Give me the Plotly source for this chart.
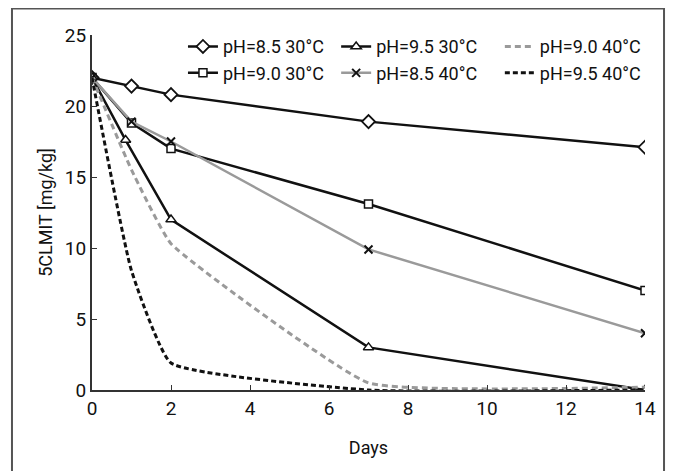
import plotly.graph_objects as go

# Data
days_std = [0, 1, 2, 7, 14]
days_tri = [0, 0.85, 2, 7, 14]

ph85_30 = [22.0, 21.4, 20.8, 18.9, 17.1]
ph90_30 = [22.0, 18.8, 17.0, 13.1, 7.0]
ph95_30 = [22.0, 17.6, 12.0, 3.0, 0.0]
ph85_40 = [22.0, 18.9, 17.5, 9.9, 4.0]
ph90_40 = [22.0, 15.5, 10.3, 0.5, 0.2]
ph95_40 = [22.0, 8.4, 1.9, 0.0, 0.0]

x_ticks = [0, 2, 4, 6, 8, 10, 12, 14]
y_ticks = [0, 5, 10, 15, 20, 25]

FONT = "Roboto, Liberation Sans, sans-serif"
BLACK = "#111111"
GRAY = "#9a9a9a"

fig = go.Figure()

fig.add_trace(go.Scatter(
    x=days_std, y=ph85_30, name="pH=8.5 30°C", mode="lines+markers",
    line=dict(color=BLACK, width=2.5),
    marker=dict(symbol="diamond", size=10, color="white", line=dict(color=BLACK, width=1.8)),
    legend="legend"))
fig.add_trace(go.Scatter(
    x=days_std, y=ph90_30, name="pH=9.0 30°C", mode="lines+markers",
    line=dict(color=BLACK, width=2.5),
    marker=dict(symbol="square", size=8, color="white", line=dict(color=BLACK, width=1.5)),
    legend="legend"))
fig.add_trace(go.Scatter(
    x=days_tri, y=ph95_30, name="pH=9.5 30°C", mode="lines+markers",
    line=dict(color=BLACK, width=2.5),
    marker=dict(symbol="triangle-up", size=9, color="white", line=dict(color=BLACK, width=1.5)),
    legend="legend2"))
fig.add_trace(go.Scatter(
    x=days_std, y=ph85_40, name="pH=8.5 40°C", mode="lines+markers",
    line=dict(color=GRAY, width=2.5),
    marker=dict(symbol="x-thin", size=8, color=BLACK, line=dict(color=BLACK, width=2)),
    legend="legend2"))
fig.add_trace(go.Scatter(
    x=days_std, y=ph90_40, name="pH=9.0 40°C", mode="lines",
    line=dict(color=GRAY, width=3, dash="6px,4px", shape="spline", smoothing=0.35),
    legend="legend3"))
fig.add_trace(go.Scatter(
    x=days_std, y=ph95_40, name="pH=9.5 40°C", mode="lines",
    line=dict(color=BLACK, width=3, dash="5px,3px", shape="spline", smoothing=0.4),
    legend="legend3"))

legend_common = dict(
    bgcolor="rgba(0,0,0,0)", font=dict(family=FONT, size=18, color=BLACK),
    yanchor="top", xanchor="left", tracegroupgap=0, itemwidth=30,
)

fig.update_layout(
    width=675, height=471,
    margin=dict(l=84, r=38, t=27, b=89),
    paper_bgcolor="white", plot_bgcolor="white",
    font=dict(family=FONT, size=18, color=BLACK),
    legend=dict(x=0.1645, y=1.019, **legend_common),
    legend2=dict(x=0.4415, y=1.019, **legend_common),
    legend3=dict(x=0.7375, y=1.019, **legend_common),
    xaxis=dict(
        range=[0, 14], tickvals=x_ticks, ticks="inside", ticklen=5, tickwidth=1,
        tickcolor="#333", showline=True, linecolor="#333", linewidth=2,
        showgrid=False, zeroline=False, automargin=False,
        title=dict(text="Days", font=dict(family=FONT, size=18), standoff=23),
        tickfont=dict(family=FONT, size=19),
    ),
    yaxis=dict(
        range=[0, 25], tickvals=y_ticks, ticks="inside", ticklen=5, tickwidth=1,
        tickcolor="#333", showline=True, linecolor="#333", linewidth=2,
        showgrid=False, zeroline=False, automargin=False,
        title=dict(text="5CLMIT [mg/kg]", font=dict(family=FONT, size=18), standoff=8),
        tickfont=dict(family=FONT, size=19),
    ),
    shapes=[dict(type="rect", xref="paper", yref="paper",
                 x0=-0.1447, x1=1.0344, y0=-0.3, y1=1.0746,
                 line=dict(color="#555", width=2), fillcolor="rgba(0,0,0,0)", layer="below")],
)

fig.write_html("out.html")
